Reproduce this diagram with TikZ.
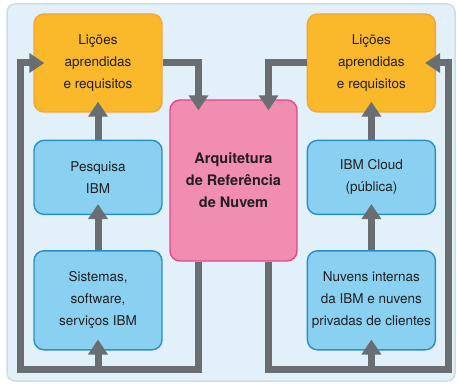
\documentclass[tikz,border=0pt]{standalone}
\usepackage{fontspec}
\setmainfont{TeX Gyre Heros}
\usetikzlibrary{positioning, arrows.meta}
\definecolor{bgfill}{HTML}{E2F1F9}
\definecolor{bgline}{HTML}{CFDCE3}
\definecolor{lessonfill}{HTML}{F9B92B}
\definecolor{lessonline}{HTML}{F5A43A}
\definecolor{sourcefill}{HTML}{8AD1F1}
\definecolor{sourceline}{HTML}{2590C7}
\definecolor{archfill}{HTML}{F08DB1}
\definecolor{archline}{HTML}{E2498A}
\definecolor{flowgray}{HTML}{686E71}
\definecolor{textgray}{HTML}{231F20}
\tikzset{
  every node/.style={align=center, text=textgray, font=\fontsize{13.5}{22}\selectfont}, % centred lines of text
  box/.style={rounded corners=10pt, line width=1.4pt, minimum width=128pt, inner sep=0pt}, % common look of the boxes
  lessons/.style={box, fill=lessonfill, draw=lessonline, minimum height=98pt}, % orange boxes
  source/.style={box, fill=sourcefill, draw=sourceline}, % blue boxes
  archbox/.style={box, fill=archfill, draw=archline, minimum width=127pt, minimum height=161pt, font=\bfseries\fontsize{14.5}{22}\selectfont}, % pink box in the middle
  flow/.style={draw=flowgray, line width=7pt, -{Triangle[width=19pt, length=15pt]}, shorten >=-11pt}, % thick grey arrows
}

\begin{document}
\begin{tikzpicture}[x=1pt, y=1pt]
  \useasboundingbox (0,0) rectangle (457,383);
  \fill[bgfill, draw=bgline, line width=1.5pt, rounded corners=8pt] (7,2) rectangle (455,379);

  \node[lessons] (lessonsL) at (98,320) {Lições\\aprendidas\\e requisitos};
  \node[source, minimum height=74pt, below=27pt of lessonsL] (researchL) {Pesquisa\\IBM};
  \node[source, minimum height=99pt, below=35pt of researchL] (systemsL) {Sistemas,\\software,\\serviços IBM};
  \node[archbox] (arch) at (233.5,202.5) {Arquitetura\\de Referência\\de Nuvem};
  \node[lessons, right=144pt of lessonsL] (lessonsR) {Lições\\aprendidas\\e requisitos};
  \node[source, minimum height=74pt, below=27pt of lessonsR] (cloudR) {IBM Cloud\\(pública)};
  \node[source, minimum height=99pt, below=35pt of cloudR] (privateR) {Nuvens internas\\da IBM e nuvens\\privadas de clientes};

  \coordinate (loopL) at (20,13.5);
  \coordinate (loopR) at (448,13.5);

  % left side
  \draw[flow] (researchL) -- (lessonsL);
  \draw[flow] (systemsL) -- (researchL);
  \draw[flow] (systemsL |- loopL) -- (systemsL);
  \draw[flow] (lessonsL.east) -| ([xshift=-35pt]arch.north);
  \draw[flow] ([xshift=-35pt]arch.south) |- (loopL) |- (lessonsL.west);

  % right side
  \draw[flow] (cloudR) -- (lessonsR);
  \draw[flow] (privateR) -- (cloudR);
  \draw[flow] (privateR |- loopR) -- (privateR);
  \draw[flow] (lessonsR.west) -| ([xshift=35pt]arch.north);
  \draw[flow] ([xshift=35pt]arch.south) |- (loopR) |- (lessonsR.east);
\end{tikzpicture}
\end{document}
